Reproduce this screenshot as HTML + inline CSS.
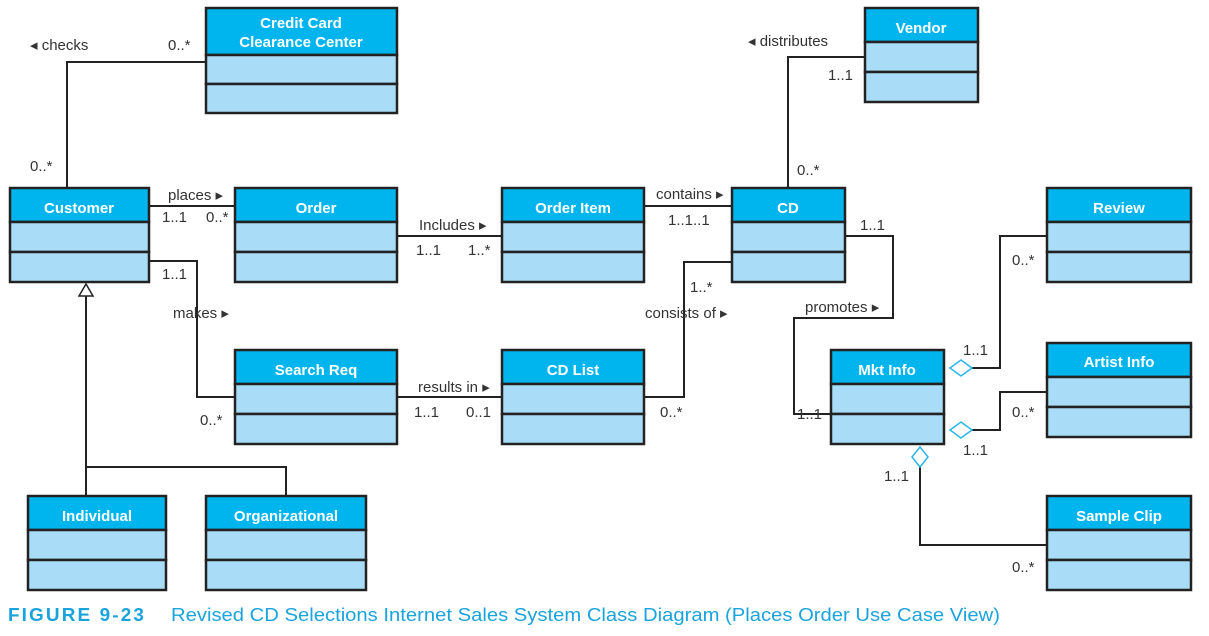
<!DOCTYPE html>
<html><head><meta charset="utf-8"><style>
html,body{margin:0;padding:0;background:#fff;}
svg{display:block;}
text{font-family:"Liberation Sans",sans-serif;}
.l{font-size:15px;fill:#333;}
.h{font-size:15px;fill:#fff;font-weight:bold;text-anchor:middle;}
</style></head><body>
<svg width="1209" height="636" viewBox="0 0 1209 636" xmlns="http://www.w3.org/2000/svg">
<g stroke="#222" stroke-width="2" fill="none">
<polyline points="67,188 67,62 206,62"/>
<line x1="149" y1="206" x2="235" y2="206"/>
<polyline points="149,261 197,261 197,397 235,397"/>
<line x1="397" y1="236" x2="502" y2="236"/>
<line x1="644" y1="206" x2="732" y2="206"/>
<polyline points="732,262 684,262 684,397 644,397"/>
<line x1="397" y1="397" x2="502" y2="397"/>
<polyline points="788,188 788,57 865,57"/>
<polyline points="845,236 893,236 893,318 794,318 794,414 831,414"/>
<polyline points="972,368 1000,368 1000,236 1047,236"/>
<polyline points="972,430 1000,430 1000,392 1047,392"/>
<polyline points="920,467 920,545 1047,545"/>
<polyline points="86,296 86,467 286,467 286,496"/>
<line x1="86" y1="467" x2="86" y2="496"/>
</g>
<polygon points="86,284 79,296 93,296" fill="#fff" stroke="#222" stroke-width="1.5"/>
<g fill="#fff" stroke="#29b6e8" stroke-width="1.5">
<polygon points="950,368 961,360 972,368 961,376"/>
<polygon points="950,430 961,422 972,430 961,438"/>
<polygon points="920,447 928,457 920,467 912,457"/>
</g>
<g stroke="#222" stroke-width="2.5">
<rect x="206" y="8" width="191" height="47" fill="#00b5ee"/><rect x="206" y="55" width="191" height="29" fill="#a9ddf7"/><rect x="206" y="84" width="191" height="29" fill="#a9ddf7"/>
<rect x="865" y="8" width="113" height="34" fill="#00b5ee"/><rect x="865" y="42" width="113" height="30" fill="#a9ddf7"/><rect x="865" y="72" width="113" height="30" fill="#a9ddf7"/>
<rect x="10" y="188" width="139" height="34" fill="#00b5ee"/><rect x="10" y="222" width="139" height="30" fill="#a9ddf7"/><rect x="10" y="252" width="139" height="30" fill="#a9ddf7"/>
<rect x="235" y="188" width="162" height="34" fill="#00b5ee"/><rect x="235" y="222" width="162" height="30" fill="#a9ddf7"/><rect x="235" y="252" width="162" height="30" fill="#a9ddf7"/>
<rect x="502" y="188" width="142" height="34" fill="#00b5ee"/><rect x="502" y="222" width="142" height="30" fill="#a9ddf7"/><rect x="502" y="252" width="142" height="30" fill="#a9ddf7"/>
<rect x="732" y="188" width="113" height="34" fill="#00b5ee"/><rect x="732" y="222" width="113" height="30" fill="#a9ddf7"/><rect x="732" y="252" width="113" height="30" fill="#a9ddf7"/>
<rect x="1047" y="188" width="144" height="34" fill="#00b5ee"/><rect x="1047" y="222" width="144" height="30" fill="#a9ddf7"/><rect x="1047" y="252" width="144" height="30" fill="#a9ddf7"/>
<rect x="235" y="350" width="162" height="34" fill="#00b5ee"/><rect x="235" y="384" width="162" height="30" fill="#a9ddf7"/><rect x="235" y="414" width="162" height="30" fill="#a9ddf7"/>
<rect x="502" y="350" width="142" height="34" fill="#00b5ee"/><rect x="502" y="384" width="142" height="30" fill="#a9ddf7"/><rect x="502" y="414" width="142" height="30" fill="#a9ddf7"/>
<rect x="831" y="350" width="113" height="34" fill="#00b5ee"/><rect x="831" y="384" width="113" height="30" fill="#a9ddf7"/><rect x="831" y="414" width="113" height="30" fill="#a9ddf7"/>
<rect x="1047" y="343" width="144" height="34" fill="#00b5ee"/><rect x="1047" y="377" width="144" height="30" fill="#a9ddf7"/><rect x="1047" y="407" width="144" height="30" fill="#a9ddf7"/>
<rect x="28" y="496" width="138" height="34" fill="#00b5ee"/><rect x="28" y="530" width="138" height="30" fill="#a9ddf7"/><rect x="28" y="560" width="138" height="30" fill="#a9ddf7"/>
<rect x="206" y="496" width="160" height="34" fill="#00b5ee"/><rect x="206" y="530" width="160" height="30" fill="#a9ddf7"/><rect x="206" y="560" width="160" height="30" fill="#a9ddf7"/>
<rect x="1047" y="496" width="144" height="34" fill="#00b5ee"/><rect x="1047" y="530" width="144" height="30" fill="#a9ddf7"/><rect x="1047" y="560" width="144" height="30" fill="#a9ddf7"/>
</g>
<text class="h" x="301" y="28">Credit Card</text>
<text class="h" x="301" y="47">Clearance Center</text>
<text class="h" x="921" y="33">Vendor</text>
<text class="h" x="79" y="213">Customer</text>
<text class="h" x="316" y="213">Order</text>
<text class="h" x="573" y="213">Order Item</text>
<text class="h" x="788" y="213">CD</text>
<text class="h" x="1119" y="213">Review</text>
<text class="h" x="316" y="375">Search Req</text>
<text class="h" x="573" y="375">CD List</text>
<text class="h" x="887" y="375">Mkt Info</text>
<text class="h" x="1119" y="367">Artist Info</text>
<text class="h" x="97" y="521">Individual</text>
<text class="h" x="286" y="521">Organizational</text>
<text class="h" x="1119" y="521">Sample Clip</text>
<g>
<text class="l" x="30" y="50">◂ checks</text>
<text class="l" x="168" y="50">0..*</text>
<text class="l" x="30" y="171">0..*</text>
<text class="l" x="168" y="200">places ▸</text>
<text class="l" x="162" y="222">1..1</text>
<text class="l" x="206" y="222">0..*</text>
<text class="l" x="162" y="279">1..1</text>
<text class="l" x="173" y="318">makes ▸</text>
<text class="l" x="200" y="425">0..*</text>
<text class="l" x="419" y="230">Includes ▸</text>
<text class="l" x="416" y="255">1..1</text>
<text class="l" x="468" y="255">1..*</text>
<text class="l" x="656" y="199">contains ▸</text>
<text class="l" x="668" y="225">1..1..1</text>
<text class="l" x="690" y="292">1..*</text>
<text class="l" x="645" y="318">consists of ▸</text>
<text class="l" x="660" y="417">0..*</text>
<text class="l" x="418" y="392">results in ▸</text>
<text class="l" x="414" y="417">1..1</text>
<text class="l" x="466" y="417">0..1</text>
<text class="l" x="748" y="46">◂ distributes</text>
<text class="l" x="828" y="80">1..1</text>
<text class="l" x="797" y="175">0..*</text>
<text class="l" x="860" y="230">1..1</text>
<text class="l" x="805" y="312">promotes ▸</text>
<text class="l" x="797" y="419">1..1</text>
<text class="l" x="963" y="355">1..1</text>
<text class="l" x="1012" y="265">0..*</text>
<text class="l" x="1012" y="417">0..*</text>
<text class="l" x="963" y="455">1..1</text>
<text class="l" x="884" y="481">1..1</text>
<text class="l" x="1012" y="572">0..*</text>
</g>
<text x="8" y="621" textLength="138" lengthAdjust="spacingAndGlyphs" style="font-size:18px;fill:#1aa3dc;font-weight:bold;letter-spacing:2px">FIGURE 9-23</text>
<text x="171" y="621" textLength="829" lengthAdjust="spacingAndGlyphs" style="font-size:18px;fill:#1aa3dc">Revised CD Selections Internet Sales System Class Diagram (Places Order Use Case View)</text>
</svg>
</body></html>
